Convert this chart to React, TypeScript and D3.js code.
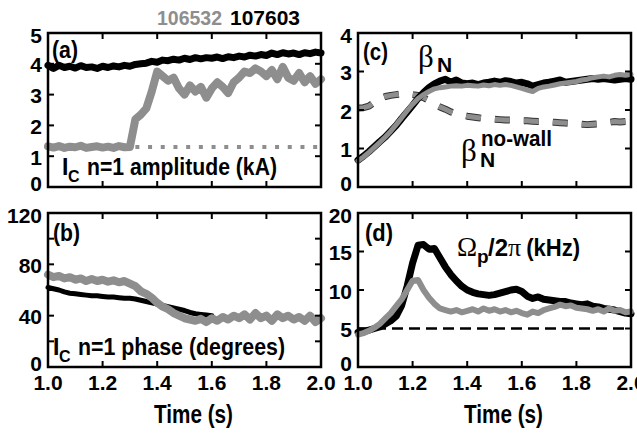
import React from 'react';
import * as d3 from 'd3';

// sample times (s), shared by every trace
const times = [
  1.00, 1.02, 1.04, 1.06, 1.08, 1.10, 1.12, 1.14, 1.16, 1.18,
  1.20, 1.22, 1.24, 1.26, 1.28, 1.30, 1.32, 1.34, 1.36, 1.38,
  1.40, 1.42, 1.44, 1.46, 1.48, 1.50, 1.52, 1.54, 1.56, 1.58,
  1.60, 1.62, 1.64, 1.66, 1.68, 1.70, 1.72, 1.74, 1.76, 1.78,
  1.80, 1.82, 1.84, 1.86, 1.88, 1.90, 1.92, 1.94, 1.96, 1.98, 2.00,
];

// (a) I_C n=1 amplitude (kA)
const ampBlack = [
  3.95, 3.85, 3.95, 3.88, 3.92, 3.86, 3.94, 3.88, 3.9, 3.85,
  3.92, 3.88, 3.93, 3.9, 3.95, 3.92, 3.98, 4.0, 4.02, 4.08,
  4.05, 4.12, 4.1, 4.15, 4.12, 4.18, 4.14, 4.2, 4.16, 4.2,
  4.18, 4.22, 4.17, 4.23, 4.2, 4.25, 4.22, 4.28, 4.25, 4.3,
  4.27, 4.35, 4.3, 4.36, 4.32, 4.35, 4.3, 4.36, 4.33, 4.38, 4.35,
];
const ampGray = [
  1.32, 1.28, 1.33, 1.27, 1.31, 1.29, 1.34, 1.27, 1.3, 1.32,
  1.28, 1.31, 1.27, 1.33, 1.29, 1.3, 2.2, 2.35, 2.55, 3.1,
  3.75, 3.6, 3.45, 3.55, 3.2, 3.0, 3.3, 3.1, 3.25, 2.9,
  3.2, 3.4, 3.25, 3.05, 3.4, 3.55, 3.75, 3.7, 3.85, 3.75,
  3.6, 3.8, 3.5, 3.9, 3.55, 3.45, 3.7, 3.4, 3.6, 3.35, 3.5,
];
const ampRefTimes = [1.32, 2.0];
const ampRef = [1.3, 1.3];

// (b) I_C n=1 phase (degrees)
const phaseBlack = [
  62, 61, 60, 58.5, 57.5, 57, 56.5, 56, 55.5, 55.5,
  55, 54.5, 54.5, 54, 53.5, 53.5, 53, 52, 51, 50,
  49, 48, 47, 46, 45, 44, 42.5, 41.5, 41, 40.5, 40,
];
const phaseGray = [
  72, 70, 71, 69, 70, 68, 69, 67, 68.5, 67,
  68, 66.5, 67.5, 66, 67, 65, 63, 59, 57, 54,
  50, 47, 45, 42, 40, 38, 37, 36, 37.5, 35,
  38, 36, 39, 37, 40, 38, 41, 37, 42, 38,
  40, 36, 41, 38, 40, 37, 39, 36, 40, 35, 38,
];

// (c) beta_N and beta_N no-wall
const betaBlack = [
  0.7, 0.8, 0.92, 1.05, 1.18, 1.3, 1.45, 1.6, 1.78, 1.95,
  2.12, 2.3, 2.45, 2.58, 2.68, 2.75, 2.8, 2.72, 2.78, 2.7,
  2.68, 2.7, 2.66, 2.7, 2.72, 2.75, 2.72, 2.76, 2.74, 2.7,
  2.72, 2.68, 2.62, 2.66, 2.7, 2.72, 2.75, 2.78, 2.72, 2.74,
  2.76, 2.78, 2.8, 2.82, 2.8, 2.82, 2.8, 2.78, 2.8, 2.82, 2.8,
];
const betaGray = [
  0.68, 0.78, 0.9, 1.03, 1.16, 1.3, 1.45, 1.62, 1.8, 1.98,
  2.15, 2.3, 2.4, 2.48, 2.55, 2.58, 2.6, 2.62, 2.63, 2.62,
  2.64, 2.63, 2.62, 2.65, 2.63, 2.66, 2.64, 2.66, 2.64, 2.6,
  2.56, 2.52, 2.48, 2.56, 2.6, 2.62, 2.65, 2.68, 2.7, 2.72,
  2.74, 2.78, 2.8, 2.84, 2.86, 2.88, 2.86, 2.9, 2.92, 2.9, 2.93,
];
const betaNoWall = [
  2.05, 2.06, 2.1, 2.2, 2.3, 2.35, 2.38, 2.4, 2.42, 2.42,
  2.4, 2.38, 2.32, 2.25, 2.15, 2.08, 2.02, 1.95, 1.9, 1.87,
  1.84, 1.82, 1.8, 1.78, 1.77, 1.76, 1.75, 1.74, 1.74, 1.73,
  1.72, 1.72, 1.71, 1.7, 1.7, 1.69, 1.68, 1.67, 1.66, 1.65,
  1.64, 1.63, 1.62, 1.63, 1.64, 1.66, 1.68, 1.7, 1.69, 1.7, 1.68,
];

// (d) Omega_p / 2pi (kHz)
const rotBlack = [
  4.5, 4.6, 4.8, 5.0, 5.2, 5.6, 6.0, 6.6, 8.0, 10.5,
  13.5, 15.8, 15.9, 15.3, 15.4, 14.2, 13.0, 12.0, 11.2, 10.5,
  10.0, 9.7, 9.5, 9.4, 9.3, 9.4, 9.6, 9.8, 10.0, 10.1,
  9.8, 9.2, 8.9, 9.1, 8.8, 8.7, 8.6, 8.5, 8.5, 8.3,
  8.2, 8.1, 8.2, 7.9, 7.8, 7.6, 7.5, 7.4, 7.2, 7.0, 6.9,
];
const rotGray = [
  4.2, 4.4, 4.7, 5.1, 5.6, 6.3, 7.0, 7.9, 8.8, 10.0,
  11.2, 11.3, 10.0, 9.0, 8.2, 7.6, 7.4, 7.2, 7.4, 7.1,
  7.3, 7.5, 7.2, 7.6, 7.3, 7.5, 7.2, 7.4, 7.1, 7.3,
  7.0, 6.8, 7.2, 7.0, 7.4, 7.6, 7.8, 8.1, 7.9, 8.0,
  7.7, 7.6, 7.5, 7.3, 7.5, 7.2, 7.6, 7.3, 7.4, 7.1, 7.2,
];
const rotRefTimes = [1.0, 2.0];
const rotRef = [5, 5];

const xTicks = [1.0, 1.2, 1.4, 1.6, 1.8, 2.0];

const FONT = "'Liberation Sans', Arial, Helvetica, sans-serif";
const SERIF = "'Liberation Serif', 'DejaVu Serif', serif";
const GRAY = '#8e8e8e';
const W = 273;
const H = 154;

type Scale = d3.ScaleLinear<number, number>;

function trace(x: Scale, y: Scale, ts: number[], vs: number[]) {
  const line = d3.line<number>().x((_, i) => x(ts[i])).y((v) => y(v));
  return line(vs) || '';
}

function Panel({ left, top, yMax, yTicks, yLabels, showX, children }: {
  left: number; top: number; yMax: number; yTicks: number[]; yLabels: number[];
  showX: boolean; children: (x: Scale, y: Scale) => React.ReactNode;
}) {
  const x = d3.scaleLinear().domain([1, 2]).range([left, left + W]);
  const y = d3.scaleLinear().domain([0, yMax]).range([top + H, top]);
  return (
    <g>
      {children(x, y)}
      <rect x={left} y={top} width={W} height={H} fill="none" stroke="#000" strokeWidth={2.5} />
      {xTicks.slice(1, -1).map((t) => (
        <g key={t} stroke="#000" strokeWidth={2}>
          <line x1={x(t)} x2={x(t)} y1={top} y2={top + 6} />
          <line x1={x(t)} x2={x(t)} y1={top + H} y2={top + H - 6} />
        </g>
      ))}
      {yTicks.slice(1, -1).map((v) => (
        <g key={v} stroke="#000" strokeWidth={2}>
          <line x1={left} x2={left + 6} y1={y(v)} y2={y(v)} />
          <line x1={left + W} x2={left + W - 6} y1={y(v)} y2={y(v)} />
        </g>
      ))}
      {yLabels.map((v, i) => (
        <text key={v} x={left - 6} y={y(v) + (i === 0 ? -4 : i === yLabels.length - 1 ? 2 : 1)}
          dy="0.36em" textAnchor="end"
          fontFamily={FONT} fontWeight="bold" fontSize={21}>{v}</text>
      ))}
      {showX && xTicks.map((t) => (
        <text key={t} x={x(t)} y={top + H + 23} textAnchor="middle"
          fontFamily={FONT} fontWeight="bold" fontSize={21}>{t.toFixed(1)}</text>
      ))}
      {showX && (
        <text x={left + W / 2 + 9} y={top + H + 56} textAnchor="middle"
          fontFamily={FONT} fontWeight="bold" fontSize={26}
          textLength={79} lengthAdjust="spacingAndGlyphs">Time (s)</text>
      )}
    </g>
  );
}

export default function App() {
  const L1 = 48;
  const L2 = 358;
  const T1 = 33;
  const T2 = 213;
  return (
    <svg width={637} height={435} style={{ position: 'absolute', left: 0, top: 0, background: '#fff' }}>
      <text y={25} fontFamily={FONT} fontWeight="bold" fontSize={20}>
        <tspan x={157} fill={GRAY} textLength={65} lengthAdjust="spacingAndGlyphs">106532</tspan>
        <tspan x={230} fill="#000" textLength={70} lengthAdjust="spacingAndGlyphs">107603</tspan>
      </text>

      <Panel left={L1} top={T1} yMax={5} yTicks={[0, 1, 2, 3, 4, 5]} yLabels={[0, 1, 2, 3, 4, 5]} showX={false}>
        {(x, y) => (
          <g fill="none" strokeLinejoin="round" strokeLinecap="round">
            <path d={trace(x, y, ampRefTimes, ampRef)} stroke={GRAY} strokeWidth={4}
              strokeLinecap="butt" strokeDasharray="4 8.7" />
            <path d={trace(x, y, times, ampGray)} stroke={GRAY} strokeWidth={8} />
            <path d={trace(x, y, times, ampBlack)} stroke="#000" strokeWidth={7} />
          </g>
        )}
      </Panel>
      <text x={52} y={58} fontFamily={FONT} fontWeight="bold" fontSize={23}
        textLength={26} lengthAdjust="spacingAndGlyphs">(a)</text>
      <text fontFamily={FONT} fontWeight="bold" fontSize={23}>
        <tspan x={62} y={175}>I</tspan>
        <tspan x={68} y={182} fontSize={16}>C</tspan>
        <tspan x={87} y={175} textLength={190} lengthAdjust="spacingAndGlyphs">n=1 amplitude (kA)</tspan>
      </text>

      <Panel left={L1} top={T2} yMax={120} yTicks={[0, 20, 40, 60, 80, 100, 120]} yLabels={[0, 40, 80, 120]} showX={true}>
        {(x, y) => (
          <g fill="none" strokeLinejoin="round" strokeLinecap="round">
            <path d={trace(x, y, times, phaseBlack)} stroke="#000" strokeWidth={5} />
            <path d={trace(x, y, times, phaseGray)} stroke={GRAY} strokeWidth={8} />
          </g>
        )}
      </Panel>
      <text x={53} y={241} fontFamily={FONT} fontWeight="bold" fontSize={23}
        textLength={27} lengthAdjust="spacingAndGlyphs">(b)</text>
      <text fontFamily={FONT} fontWeight="bold" fontSize={23}>
        <tspan x={53} y={355}>I</tspan>
        <tspan x={59} y={362} fontSize={16}>C</tspan>
        <tspan x={78} y={355} textLength={207} lengthAdjust="spacingAndGlyphs">n=1 phase (degrees)</tspan>
      </text>

      <Panel left={L2} top={T1} yMax={4} yTicks={[0, 1, 2, 3, 4]} yLabels={[0, 1, 2, 3, 4]} showX={false}>
        {(x, y) => (
          <g fill="none" strokeLinejoin="round" strokeLinecap="round">
            <path d={trace(x, y, times, betaNoWall)} stroke="#333" strokeWidth={7}
              strokeLinecap="butt" strokeDasharray="15 14" />
            <path d={trace(x, y, times, betaNoWall)} stroke={GRAY} strokeWidth={5}
              strokeLinecap="butt" strokeDasharray="15 14" />
            <path d={trace(x, y, times, betaBlack)} stroke="#000" strokeWidth={7} />
            <path d={trace(x, y, times, betaGray)} stroke={GRAY} strokeWidth={5} />
          </g>
        )}
      </Panel>
      <text x={363} y={60} fontFamily={FONT} fontWeight="bold" fontSize={23}
        textLength={25} lengthAdjust="spacingAndGlyphs">(c)</text>
      <text>
        <tspan x={418} y={67} fontFamily={SERIF} fontSize={31}>β</tspan>
        <tspan x={437} y={72} fontFamily={FONT} fontWeight="bold" fontSize={21}>N</tspan>
      </text>
      <text>
        <tspan x={461} y={161} fontFamily={SERIF} fontSize={31}>β</tspan>
        <tspan x={480} y={167} fontFamily={FONT} fontWeight="bold" fontSize={21}>N</tspan>
        <tspan x={481} y={146} fontFamily={FONT} fontWeight="bold" fontSize={22}
          textLength={71} lengthAdjust="spacingAndGlyphs">no-wall</tspan>
      </text>

      <Panel left={L2} top={T2} yMax={20} yTicks={[0, 5, 10, 15, 20]} yLabels={[0, 5, 10, 15, 20]} showX={true}>
        {(x, y) => (
          <g fill="none" strokeLinejoin="round" strokeLinecap="round">
            <path d={trace(x, y, rotRefTimes, rotRef)} stroke="#000" strokeWidth={2.5}
              strokeLinecap="butt" strokeDasharray="11 6" />
            <path d={trace(x, y, times, rotBlack)} stroke="#000" strokeWidth={7} />
            <path d={trace(x, y, times, rotGray)} stroke={GRAY} strokeWidth={6} />
          </g>
        )}
      </Panel>
      <text x={365} y={241} fontFamily={FONT} fontWeight="bold" fontSize={23}
        textLength={28} lengthAdjust="spacingAndGlyphs">(d)</text>
      <text>
        <tspan x={457} y={256} fontFamily={SERIF} fontSize={27}>Ω</tspan>
        <tspan x={477} y={263} fontFamily={FONT} fontWeight="bold" fontSize={19}>p</tspan>
        <tspan x={488} y={256} fontFamily={FONT} fontWeight="bold" fontSize={24}>/2</tspan>
        <tspan fontFamily={SERIF} fontSize={26}>π</tspan>
        <tspan dx={5} fontFamily={FONT} fontWeight="bold" fontSize={24}
          textLength={54} lengthAdjust="spacingAndGlyphs">(kHz)</tspan>
      </text>
    </svg>
  );
}
